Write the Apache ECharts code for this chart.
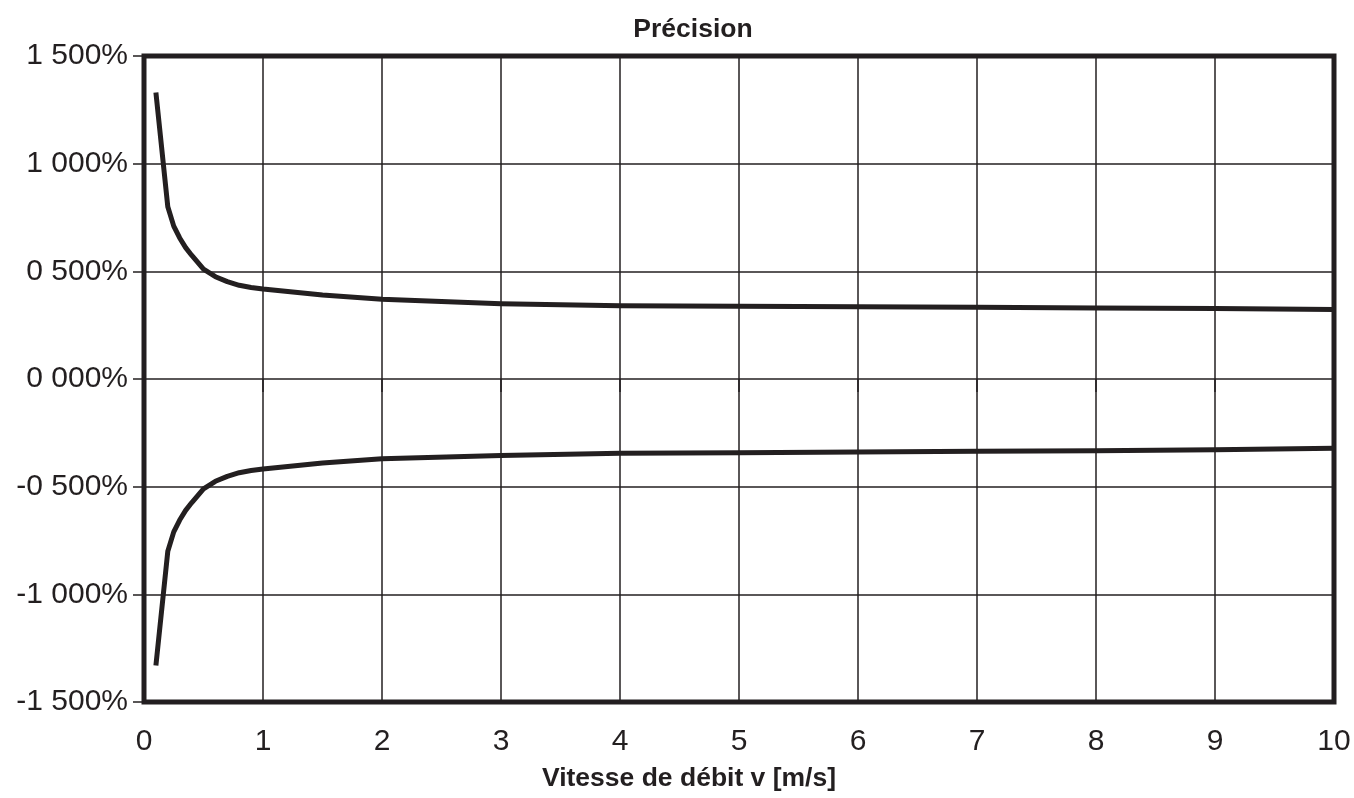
<!DOCTYPE html>
<html><head><meta charset="utf-8">
<script src="https://cdn.jsdelivr.net/npm/echarts@6/dist/echarts.min.js"></script>
<style>html,body{margin:0;padding:0;background:#fff}#c{width:1354px;height:798px}</style>
</head><body><div id="c"></div>
<script>
const velocities = [0.1, 0.2, 0.25, 0.3, 0.35, 0.4, 0.5, 0.6, 0.7, 0.8, 0.9, 1, 1.5, 2, 3, 4, 5, 6, 7, 8, 9, 10];
const upperAccuracy = [1.33, 0.80, 0.71, 0.655, 0.61, 0.575, 0.51, 0.475, 0.452, 0.435, 0.425, 0.418, 0.39, 0.37, 0.35, 0.34, 0.338, 0.335, 0.333, 0.330, 0.327, 0.323];
const lowerAccuracy = [-1.33, -0.80, -0.71, -0.655, -0.61, -0.575, -0.51, -0.475, -0.452, -0.435, -0.425, -0.418, -0.39, -0.37, -0.355, -0.345, -0.342, -0.339, -0.336, -0.333, -0.328, -0.322];
const yTickValues = [-1.5, -1, -0.5, 0, 0.5, 1, 1.5];
const yTickLabels = ['-1 500%', '-1 000%', '-0 500%', '0 000%', '0 500%', '1 000%', '1 500%'];
const xTickLabels = ['0','1','2','3','4','5','6','7','8','9','10'];
const titleText = 'Précision';
const xAxisTitle = 'Vitesse de débit v [m/s]';

const ink = '#231f20';
const font = '"Liberation Sans", Arial, sans-serif';
const chart = echarts.init(document.getElementById('c'), null, {renderer: 'canvas'});
const toPairs = (ys) => velocities.map((v, i) => [v, ys[i]]);
chart.setOption({
  animation: false,
  backgroundColor: '#fff',
  title: {
    text: titleText, left: 688, top: 11, textAlign: 'center',
    textStyle: {fontFamily: font, fontWeight: 'bold', fontSize: 26.5, color: ink}
  },
  grid: {left: 144, right: 20, top: 56, bottom: 96, show: true, borderColor: ink, borderWidth: 5, backgroundColor: 'transparent'},
  xAxis: {
    type: 'value', min: 0, max: 10, interval: 1,
    name: xAxisTitle, nameLocation: 'middle', nameGap: 63,
    nameTextStyle: {fontFamily: font, fontWeight: 'bold', fontSize: 26.5, color: ink, padding: [0, 100, 0, 0]},
    axisLine: {show: false},
    axisTick: {show: true, inside: false, length: 13, lineStyle: {color: ink, width: 1.5}},
    axisLabel: {fontFamily: font, fontSize: 30, color: ink, margin: 25,
      formatter: (v) => xTickLabels[Math.round(v)] ?? ''},
    splitLine: {show: true, lineStyle: {color: ink, width: 1.5}}
  },
  yAxis: {
    type: 'value', min: -1.5, max: 1.5, interval: 0.5,
    axisLine: {show: false},
    axisTick: {show: true, inside: false, length: 11, lineStyle: {color: ink, width: 1.5}},
    axisLabel: {fontFamily: font, fontSize: 30, color: ink, margin: 16,
      formatter: (v) => { const i = yTickValues.findIndex(t => Math.abs(t - v) < 1e-6); return i >= 0 ? yTickLabels[i] : ''; }},
    splitLine: {show: true, lineStyle: {color: ink, width: 1.5}}
  },
  series: [
    {type: 'line', data: toPairs(upperAccuracy), showSymbol: false, smooth: false,
     lineStyle: {color: ink, width: 5, cap: 'butt', join: 'round'}},
    {type: 'line', data: toPairs(lowerAccuracy), showSymbol: false, smooth: false,
     lineStyle: {color: ink, width: 5, cap: 'butt', join: 'round'}}
  ]
});
</script></body></html>
